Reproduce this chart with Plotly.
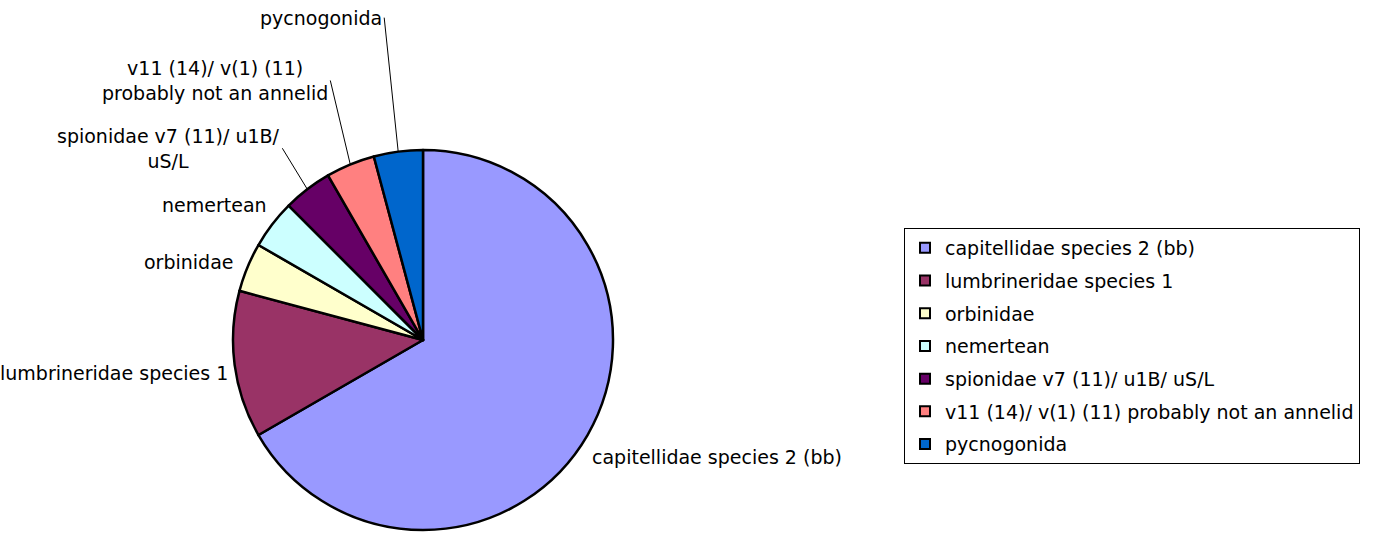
import math
import plotly.graph_objects as go

# ---- data ----
categories = [
    "capitellidae species 2 (bb)",
    "lumbrineridae species 1",
    "orbinidae",
    "nemertean",
    "spionidae v7 (11)/ u1B/ uS/L",
    "v11 (14)/ v(1) (11) probably not an annelid",
    "pycnogonida",
]
slice_labels = [
    "capitellidae species 2 (bb)",
    "lumbrineridae species 1",
    "orbinidae",
    "nemertean",
    "spionidae v7 (11)/ u1B/<br>uS/L",
    "v11 (14)/ v(1) (11)<br>probably not an annelid",
    "pycnogonida",
]
counts = [16, 3, 1, 1, 1, 1, 1]
colors = ["#9999FF", "#993366", "#FFFFCC", "#CCFFFF", "#660066", "#FF8080", "#0066CC"]

# ---- layout / styling ----
W, H = 1385, 537
CX, CY, R = 423, 340, 190          # pie centre and radius in pixels
FONT = dict(family="DejaVu Sans", size=19, color="#000000")

# label placement relative to the slice's mid-angle edge point (pixels)
label_style = [
    # (xanchor, dx, dy, leader line)
    ("left", 2, 22, False),
    ("right", -5, 8, False),
    ("right", -11, -5, False),
    ("right", -3, -19, False),
    ("right", -25, -41, True),
    ("right", -20, -84, True),
    ("right", -14, -134, True),
]

fig = go.Figure()
fig.add_trace(go.Pie(
    labels=categories,
    values=counts,
    textinfo="none",
    sort=False,
    direction="clockwise",
    rotation=0,
    marker=dict(colors=colors, line=dict(color="#000000", width=2.5)),
    showlegend=False,
    domain=dict(x=[(CX - R) / W, (CX + R) / W], y=[(H - CY - R) / H, (H - CY + R) / H]),
))

# slice labels placed at each slice's mid-angle (computed from the counts)
total = sum(counts)
cum = 0
for lab, v, (xa, dx, dy, leader) in zip(slice_labels, counts, label_style):
    mid = (cum + v / 2) / total * 2 * math.pi
    cum += v
    px = CX + R * math.sin(mid)
    py = CY - R * math.cos(mid)
    common = dict(
        x=px / W, y=1 - py / H, xref="paper", yref="paper",
        text=lab, font=FONT, align="center",
        xanchor=xa, yanchor="middle",
    )
    if leader:
        fig.add_annotation(**common, showarrow=True, ax=dx, ay=dy,
                           arrowhead=0, arrowwidth=1, arrowcolor="#000000", standoff=0)
    else:
        fig.add_annotation(**common, showarrow=False, xshift=dx, yshift=-dy)

# legend entries
for name, col in zip(categories, colors):
    fig.add_trace(go.Scatter(
        x=[None], y=[None], mode="markers", name=name,
        legendgroup=name,
        marker=dict(symbol="square", size=10, color=col, line=dict(color="#000000", width=2)),
    ))

fig.update_layout(
    width=W, height=H,
    margin=dict(l=0, r=0, t=0, b=0),
    paper_bgcolor="#FFFFFF", plot_bgcolor="#FFFFFF",
    font=FONT,
    xaxis=dict(visible=False), yaxis=dict(visible=False),
    legend=dict(
        x=904 / W, y=1 - 228 / H, xanchor="left", yanchor="top",
        bordercolor="#000000", borderwidth=1, bgcolor="#FFFFFF",
        font=FONT, tracegroupgap=5, itemclick=False,
    ),
)

fig.write_html("out.html")
